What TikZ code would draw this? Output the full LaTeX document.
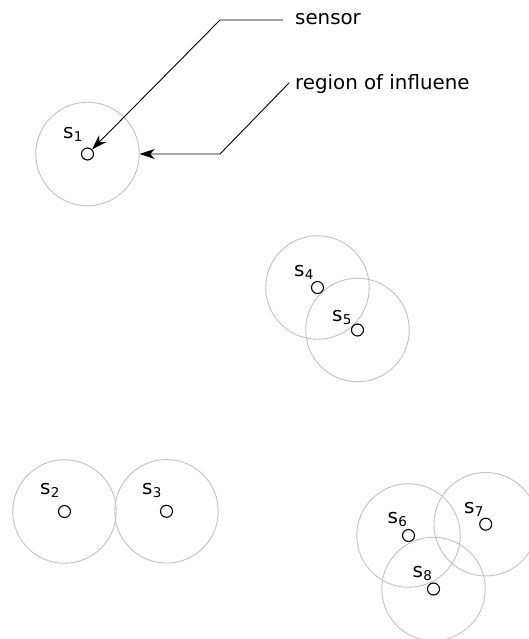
\documentclass[tikz,border=0pt]{standalone}
\usepackage{fontspec}
\setmainfont{DejaVu Sans}
\usetikzlibrary{arrows.meta}

% sensor name "s" with a lowered, smaller index
\newcommand\sensorname[1]{s\kern0.3pt\raisebox{-3pt}{\fontsize{13.5}{15}\selectfont #1}}

\begin{document}
\begin{tikzpicture}[x=1pt,y=-1pt,
  sensor/.style={circle,draw=black,line width=1.1pt,minimum size=12pt,inner sep=0pt},
  region/.style={circle,draw=black!24,line width=0.9pt,minimum size=103.5pt,inner sep=0pt},
  sname/.style={anchor=base west,inner sep=0pt,font=\fontsize{20}{23}\selectfont},
  caption/.style={anchor=base west,inner sep=0pt,font=\fontsize{19.8}{23}\selectfont},
  leader/.style={draw=black,line width=0.9pt,-{Stealth[length=15pt,width=10pt,inset=4.5pt]}}
]
\useasboundingbox (0,0) rectangle (528,639);

% regions of influence
\node[region] (r1) at (87.5,154) {};
\node[region] (r2) at (64.5,511.5) {};
\node[region] (r3) at (166.5,511.3) {};
\node[region] (r4) at (317.5,287.5) {};
\node[region] (r5) at (357.5,330) {};
\node[region] (r6) at (408.5,535.5) {};
\node[region] (r7) at (485.7,524.2) {};
\node[region] (r8) at (433.5,589) {};

% sensors
\node[sensor] (s1) at (r1) {};
\node[sensor] (s2) at (r2) {};
\node[sensor] (s3) at (r3) {};
\node[sensor] (s4) at (r4) {};
\node[sensor] (s5) at (r5) {};
\node[sensor] (s6) at (r6) {};
\node[sensor] (s7) at (r7) {};
\node[sensor] (s8) at (r8) {};

% sensor names
\node[sname] (n1) at (63,139) {\sensorname{1}};
\node[sname] (n2) at (40,494.7) {\sensorname{2}};
\node[sname] (n3) at (142,494.7) {\sensorname{3}};
\node[sname] (n4) at (294,276.3) {\sensorname{4}};
\node[sname] (n5) at (332,321) {\sensorname{5}};
\node[sname] (n6) at (387.5,523.3) {\sensorname{6}};
\node[sname] (n7) at (464,513.3) {\sensorname{7}};
\node[sname] (n8) at (412.5,577.3) {\sensorname{8}};

% captions with leader lines
\node[caption] (tsensor) at (295,25) {sensor};
\node[caption] (tregion) at (295,90) {region of influene};

\coordinate (ls0) at (283,20);
\coordinate (ls1) at (220,20);
\coordinate (lr0) at (289,83);
\coordinate (lr1) at (220,154);

\draw[leader] (ls0) -- (ls1) -- (s1);
\draw[leader] (lr0) -- (lr1) -- (r1.east);
\end{tikzpicture}
\end{document}
